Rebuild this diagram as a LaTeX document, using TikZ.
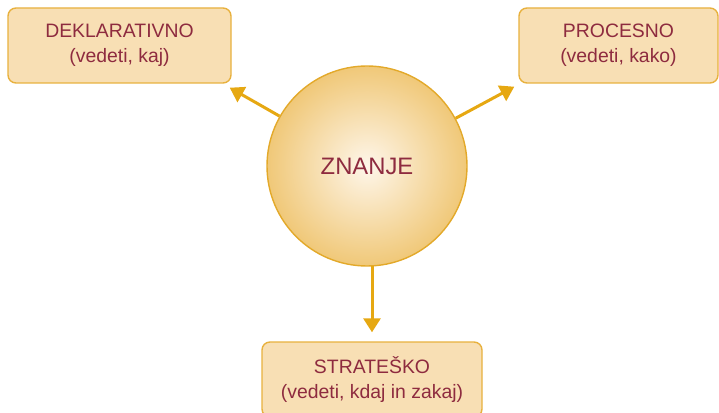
\documentclass[tikz,border=0pt]{standalone}
\usepackage{fontspec}
\setmainfont{Liberation Sans}
\usetikzlibrary{arrows.meta}
\definecolor{txtred}{HTML}{8E2B3F}
\definecolor{boxfill}{HTML}{F8DFB4}
\definecolor{boxline}{HTML}{E8B13E}
\definecolor{arrowgold}{HTML}{E6A812}
\definecolor{ballin}{HTML}{FEF6EA}
\definecolor{ballout}{HTML}{F0C878}
\definecolor{ballline}{HTML}{E3A92A}
\begin{document}
\begin{tikzpicture}[x=1pt,y=1pt,
  kindbox/.style={draw=boxline, line width=1.4pt, fill=boxfill, rounded corners=8pt,
    minimum height=75pt, align=center, text=txtred,
    font=\fontsize{19.4}{25}\selectfont},
  ball/.style={circle, draw=ballline, line width=1.4pt, minimum size=200pt,
    inner color=ballin, outer color=ballout, text=txtred,
    font=\fontsize{23.8}{28}\selectfont},
  arr/.style={draw=arrowgold, line width=3pt,
    -{Triangle[length=14pt,width=17pt]}, arrowgold}]
\useasboundingbox (0,0) rectangle (719,412);
\clip (0,0) rectangle (719,412);
\node[ball] (z) at (367,246) {ZNANJE};
\node[kindbox, minimum width=223pt] (d) at (119.5,366.5) {DEKLARATIVNO\\(vedeti, kaj)};
\node[kindbox, minimum width=199pt] (p) at (618.5,366.5) {PROCESNO\\(vedeti, kako)};
\node[kindbox, minimum width=220pt] (s) at (372,32.5) {STRATEŠKO\\(vedeti, kdaj in zakaj)};
\coordinate (zb) at ([yshift=1pt]s.north |- z.south);
\draw[arr] (z) -- ([shift={(-2pt,-4pt)}]d.south east);
\draw[arr] (z) -- ([shift={(-4pt,-3pt)}]p.south west);
\draw[arr] (zb) -- ([yshift=9pt]s.north);
\end{tikzpicture}
\end{document}
